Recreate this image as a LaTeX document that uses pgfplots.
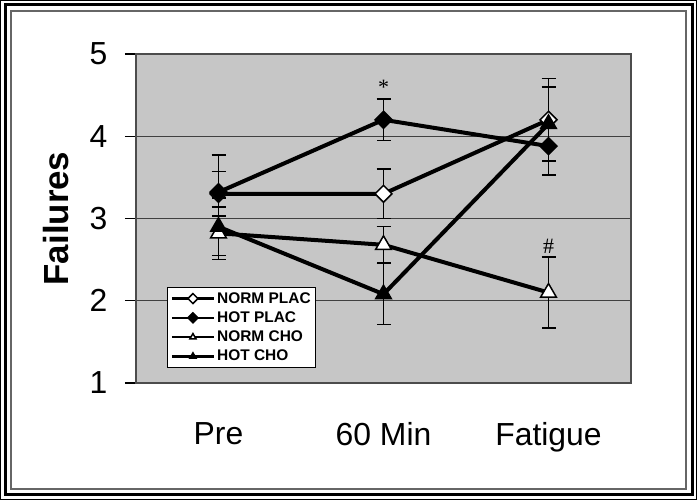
\documentclass[border=0pt]{standalone}
\usepackage{fontspec}
\setmainfont{Liberation Sans}
\newfontfamily\seriffont{Liberation Serif}
\usepackage{pgfplots}
\pgfplotsset{compat=1.18}
\definecolor{plotbg}{RGB}{198,198,198}
\begin{document}
\begin{tikzpicture}[x=1bp,y=1bp]
\path[use as bounding box] (0,0) rectangle (697,500);
\draw[black, line width=1bp] (0.5,0.5) rectangle (696.5,499.5);
\draw[black, line width=3bp] (5,5) rectangle (692,495);
\draw[black!60, line width=1.5bp] (11,11) rectangle (686,489);
\begin{axis}[
  at={(136bp,117bp)}, anchor=south west,
  scale only axis, width=495bp, height=329bp,
  xmin=-0.5, xmax=2.5, ymin=1, ymax=5,
  xtick={0,1,2}, xticklabels={Pre,60 Min,Fatigue},
  ytick={1,2,3,4,5}, ytick pos=left,
  /pgf/number format/assume math mode=true,
  ticklabel style={font=\fontsize{32}{34}\selectfont},
  x tick style={draw=none},
  y tick style={black, line width=1.2bp},
  tick align=outside, major tick length=11bp,
  xticklabel style={yshift=-25bp},
  yticklabel style={xshift=-14bp},
  ymajorgrids, major grid style={black!75, line width=1.2bp},
  axis background/.style={fill=plotbg},
  axis line style={black!70, line width=1.2bp},
  ylabel={Failures},
  ylabel style={at={(rel axis cs:0,0.5)}, yshift=80bp, anchor=center, font=\fontsize{35}{37}\selectfont\bfseries},
  legend style={at={(0.063,0.292)}, anchor=north west, draw=black, line width=1bp, fill=white,
    font=\fontsize{15.5}{15.5}\selectfont\bfseries, row sep=3bp, inner sep=3bp},
  legend cell align=left,
  legend image code/.code={\draw[mark repeat=2,mark phase=2,#1] plot coordinates {(0bp,0bp) (21bp,0bp) (42bp,0bp)};},
  legend image post style={mark size=3.5bp, line width=2.5bp},
]
\pgfplotsset{
  eb/.style={error bars/.cd, y dir=both, y explicit,
    error bar style={line width=1.5bp, black},
    error mark options={rotate=90, mark size=7bp, line width=1.5bp, black}},
}
% NORM PLAC
\addplot[black, line width=4bp, mark=square*, mark size=6bp,
  mark options={solid, fill=white, draw=black, line width=1.5bp, rotate=45}, eb]
  table[x=x, y=y, y error=e, row sep=\\] {x y e \\ 0 3.30 0.27 \\ 1 3.30 0.30 \\ 2 4.20 0.50 \\};
\addlegendentry{NORM PLAC}
% HOT PLAC
\addplot[black, line width=4bp, mark=square*, mark size=6bp,
  mark options={solid, fill=black, draw=black, line width=1.5bp, rotate=45}, eb]
  table[x=x, y=y, y error=e, row sep=\\] {x y e \\ 0 3.32 0.45 \\ 1 4.20 0.25 \\ 2 3.88 0.35 \\};
\addlegendentry{HOT PLAC}
% NORM CHO
\addplot[black, line width=4bp, mark=triangle*, mark size=9bp,
  mark options={solid, fill=white, draw=black, line width=1.5bp}, eb]
  table[x=x, y=y, y error=e, row sep=\\] {x y e \\ 0 2.82 0.32 \\ 1 2.68 0.22 \\ 2 2.10 0.43 \\};
\addlegendentry{NORM CHO}
% HOT CHO
\addplot[black, line width=4bp, mark=triangle*, mark size=9bp,
  mark options={solid, fill=black, draw=black, line width=1.5bp}, eb]
  table[x=x, y=y, y error=e, row sep=\\] {x y e \\ 0 2.90 0.35 \\ 1 2.08 0.37 \\ 2 4.15 0.45 \\};
\addlegendentry{HOT CHO}
\node[font=\seriffont\fontsize{22}{22}\selectfont] at (axis cs:1,4.60) {*};
\node[font=\seriffont\fontsize{22}{22}\selectfont] at (axis cs:2,2.66) {\#};
\end{axis}
\end{tikzpicture}
\end{document}
